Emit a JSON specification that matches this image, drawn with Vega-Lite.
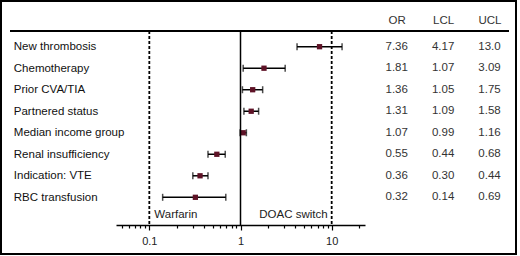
{
  "$schema": "https://vega.github.io/schema/vega-lite/v6.json",
  "width": 515,
  "height": 253,
  "padding": {"left": 1, "top": 1, "right": 4, "bottom": 2},
  "autosize": {"type": "none"},
  "config": {
    "view": {"stroke": "black", "strokeWidth": 2},
    "font": "Liberation Sans",
    "text": {"font": "Liberation Sans"}
  },
  "datasets": {
    "rows": [
      {"label": "New thrombosis", "or": 7.36, "lcl": 4.17, "ucl": 13.0, "OR": "7.36", "LCL": "4.17", "UCL": "13.0"},
      {"label": "Chemotherapy", "or": 1.81, "lcl": 1.07, "ucl": 3.09, "OR": "1.81", "LCL": "1.07", "UCL": "3.09"},
      {"label": "Prior CVA/TIA", "or": 1.36, "lcl": 1.05, "ucl": 1.75, "OR": "1.36", "LCL": "1.05", "UCL": "1.75"},
      {"label": "Partnered status", "or": 1.31, "lcl": 1.09, "ucl": 1.58, "OR": "1.31", "LCL": "1.09", "UCL": "1.58"},
      {"label": "Median income group", "or": 1.07, "lcl": 0.99, "ucl": 1.16, "OR": "1.07", "LCL": "0.99", "UCL": "1.16"},
      {"label": "Renal insufficiency", "or": 0.55, "lcl": 0.44, "ucl": 0.68, "OR": "0.55", "LCL": "0.44", "UCL": "0.68"},
      {"label": "Indication: VTE", "or": 0.36, "lcl": 0.30, "ucl": 0.44, "OR": "0.36", "LCL": "0.30", "UCL": "0.44"},
      {"label": "RBC transfusion", "or": 0.32, "lcl": 0.14, "ucl": 0.69, "OR": "0.32", "LCL": "0.14", "UCL": "0.69"}
    ]
  },
  "layer": [
    {
      "data": {"name": "rows"},
      "layer": [
        {
          "mark": {"type": "rule", "color": "black", "strokeWidth": 1.5},
          "encoding": {
            "y": {
              "field": "label", "type": "nominal", "sort": null,
              "scale": {"type": "point", "domain": ["New thrombosis", "Chemotherapy", "Prior CVA/TIA", "Partnered status", "Median income group", "Renal insufficiency", "Indication: VTE", "RBC transfusion"], "range": [45.7, 196.3], "padding": 0},
              "axis": {"orient": "left", "offset": -12.3, "domain": false, "ticks": false, "tickSize": 0, "labelPadding": 0, "labelAlign": "left", "labelBaseline": "middle", "labelFontSize": 11.5, "labelColor": "#111", "labelLimit": 0, "title": null, "grid": false}
            },
            "x": {
              "field": "lcl", "type": "quantitative",
              "scale": {"type": "log", "domain": [0.0431, 23.2], "range": [115, 364], "nice": false, "zero": false},
              "axis": {
                "orient": "bottom", "offset": -29, "title": null, "grid": false,
                "values": [0.05, 0.06, 0.07, 0.08, 0.09, 0.1, 0.2, 0.3, 0.4, 0.5, 0.6, 0.7, 0.8, 0.9, 1, 2, 3, 4, 5, 6, 7, 8, 9, 10, 20],
                "format": "~g",
                "labelExpr": "(datum.value == 0.1 || datum.value == 1 || datum.value == 10) ? datum.label : ''",
                "tickSize": {"condition": {"test": "datum.value == 0.1 || datum.value == 1 || datum.value == 10", "value": 5}, "value": 3},
                "tickColor": "black", "tickWidth": 1.2,
                "domainColor": "black", "domainWidth": 1.5,
                "labelFontSize": 11, "labelColor": "#222", "labelPadding": 5,
                "labelOverlap": false, "labelFlush": false
              }
            },
            "x2": {"field": "ucl"}
          }
        },
        {
          "mark": {"type": "tick", "orient": "vertical", "color": "black", "size": 7, "thickness": 1.5},
          "encoding": {
            "x": {"field": "lcl", "type": "quantitative"},
            "y": {"field": "label", "type": "nominal", "sort": null}
          }
        },
        {
          "mark": {"type": "tick", "orient": "vertical", "color": "black", "size": 7, "thickness": 1.5},
          "encoding": {
            "x": {"field": "ucl", "type": "quantitative"},
            "y": {"field": "label", "type": "nominal", "sort": null}
          }
        },
        {
          "mark": {"type": "point", "shape": "square", "filled": true, "color": "#5e1226", "size": 28, "opacity": 1},
          "encoding": {
            "x": {"field": "or", "type": "quantitative"},
            "y": {"field": "label", "type": "nominal", "sort": null}
          }
        }
      ]
    },
    {
      "data": {"name": "rows"},
      "transform": [{"fold": ["OR", "LCL", "UCL"], "as": ["col", "txt"]}],
      "mark": {"type": "text", "fontSize": 11.5, "color": "#333", "baseline": "middle"},
      "encoding": {
        "x": {
          "field": "col", "type": "nominal",
          "scale": {"type": "point", "domain": ["OR", "LCL", "UCL"], "range": [395.7, 488.5], "padding": 0},
          "axis": {"orient": "top", "offset": -30, "domain": false, "ticks": false, "tickSize": 0, "labelFontSize": 11.5, "labelColor": "#333", "labelPadding": 6, "labelAngle": 0, "title": null, "grid": false}
        },
        "y": {
          "field": "label", "type": "nominal", "sort": null,
          "scale": {"type": "point", "domain": ["New thrombosis", "Chemotherapy", "Prior CVA/TIA", "Partnered status", "Median income group", "Renal insufficiency", "Indication: VTE", "RBC transfusion"], "range": [45.7, 196.3], "padding": 0},
          "axis": null
        },
        "text": {"field": "txt", "type": "nominal"}
      }
    },
    {
      "data": {"values": [{"start": 0, "end": 1}]},
      "mark": {"type": "rule", "color": "black", "strokeWidth": 2},
      "encoding": {
        "x": {"field": "start", "type": "quantitative", "scale": {"domain": [0, 1], "range": [9, 508], "nice": false, "zero": false}, "axis": null},
        "x2": {"field": "end"},
        "y": {"datum": 0, "type": "quantitative", "scale": {"domain": [0, 1], "range": [30, 224], "nice": false, "zero": false}, "axis": null}
      }
    },
    {
      "layer": [
        {
          "data": {"values": [{"v": 0.1}, {"v": 10}]},
          "mark": {"type": "rule", "color": "black", "strokeWidth": 1.8, "strokeDash": [3, 2]},
          "encoding": {
            "x": {"field": "v", "type": "quantitative", "scale": {"type": "log", "domain": [0.0431, 23.2], "range": [115, 364], "nice": false, "zero": false}, "axis": null},
            "y": {"datum": 0, "type": "quantitative", "scale": {"domain": [0, 1], "range": [30, 224], "nice": false, "zero": false}, "axis": null},
            "y2": {"datum": 1}
          }
        },
        {
          "data": {"values": [{"v": 1}]},
          "mark": {"type": "rule", "color": "black", "strokeWidth": 1.5},
          "encoding": {
            "x": {"field": "v", "type": "quantitative"},
            "y": {"datum": 0, "type": "quantitative"},
            "y2": {"datum": 1}
          }
        },
        {
          "data": {"values": [{"v": 0.1, "t": "Warfarin"}]},
          "mark": {"type": "text", "align": "left", "dx": 5, "fontSize": 11.5, "color": "#222", "baseline": "middle"},
          "encoding": {
            "x": {"field": "v", "type": "quantitative"},
            "y": {"datum": 0.95, "type": "quantitative"},
            "text": {"field": "t", "type": "nominal"}
          }
        },
        {
          "data": {"values": [{"v": 10, "t": "DOAC switch"}]},
          "mark": {"type": "text", "align": "right", "dx": -4, "fontSize": 11.5, "color": "#222", "baseline": "middle"},
          "encoding": {
            "x": {"field": "v", "type": "quantitative"},
            "y": {"datum": 0.95, "type": "quantitative"},
            "text": {"field": "t", "type": "nominal"}
          }
        }
      ]
    }
  ],
  "resolve": {
    "scale": {"x": "independent", "y": "independent"},
    "axis": {"x": "independent", "y": "independent"}
  }
}
